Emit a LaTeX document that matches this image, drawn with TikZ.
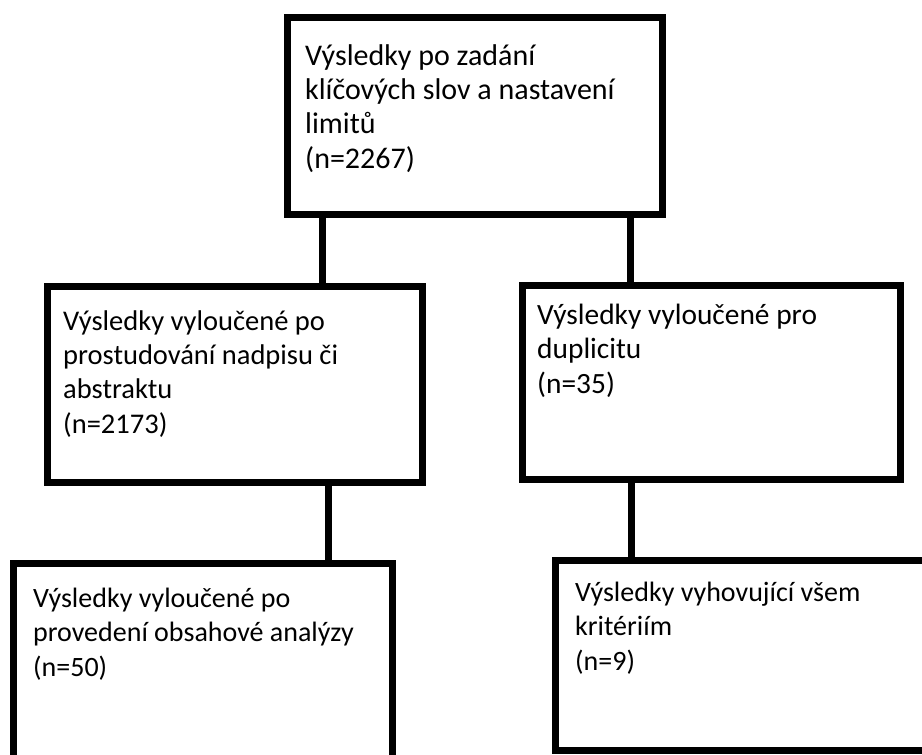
\documentclass[tikz,border=0pt]{standalone}
\usepackage{fontspec}
\setmainfont{Carlito}
\begin{document}
\begin{tikzpicture}[x=1pt,y=-1pt,
  box/.style={draw=black,line width=7pt,rectangle,outer sep=0pt,inner sep=0pt,fill=white},
  conn/.style={draw=black,line width=7pt},
  lbl/.style={anchor=base west,inner sep=0pt,align=left,text=black,font=\fontsize{#1}{34.3}\selectfont}]
\useasboundingbox[fill=white] (0,0) rectangle (922,755);
% boxes
\node[box,minimum width=375pt,minimum height=197.5pt] (top) at (474.5,115.75) {};
\node[box,minimum width=375pt,minimum height=196pt] (lm) at (234.5,384) {};
\node[box,minimum width=378pt,minimum height=194pt] (rm) at (711,382) {};
\node[box,minimum width=379pt,minimum height=206.5pt] (bl) at (203,666.75) {};
\node[box,minimum width=379.5pt,minimum height=190.5pt] (br) at (745.25,655.25) {};
% connectors
\draw[conn] (top.south -| 322.7,0) -- (lm.north -| 322.7,0);
\draw[conn] (top.south -| 630,0) -- (rm.north -| 630,0);
\draw[conn] (lm.south -| 328.5,0) -- (bl.north -| 328.5,0);
\draw[conn] (rm.south -| 631.5,0) -- (br.north -| 631.5,0);
% labels (anchor = baseline of last line)
\node[lbl=30] (ttop) at (305,168) {Výsledky po zadání\\klíčových slov a nastavení\\limitů\\(n=2267)};
\node[lbl=28.5] (tlm) at (63,433) {Výsledky vyloučené po\\prostudování nadpisu či\\abstraktu\\(n=2173)};
\node[lbl=29.4] (trm) at (537,393) {Výsledky vyloučené pro\\duplicitu\\(n=35)};
\node[lbl=28] (tbl) at (33,676) {Výsledky vyloučené po\\provedení obsahové analýzy\\(n=50)};
\node[lbl=28] (tbr) at (575,670) {Výsledky vyhovující všem\\kritériím\\(n=9)};
\end{tikzpicture}
\end{document}
